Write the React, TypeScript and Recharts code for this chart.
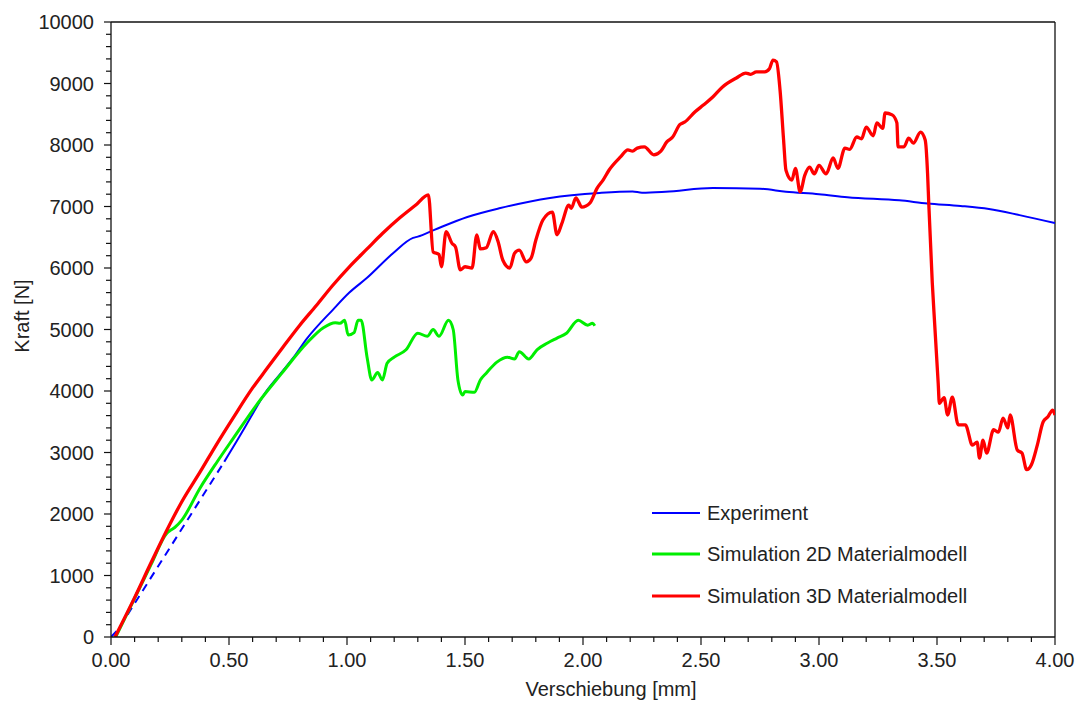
import React from "react";
import { LineChart, Line, XAxis, YAxis, ReferenceLine, Label } from "recharts";

// ---------- data ----------
const experimentDashed: [number, number][] = [
  [0.0, 0], [0.03, 120], [0.48, 2850],
];

const experiment: [number, number][] = [
  [0.48, 2850], [0.54, 3230], [0.59, 3560], [0.65, 3950], [0.72, 4290], [0.78, 4580],
  [0.83, 4850], [0.94, 5320], [1.01, 5600], [1.085, 5840], [1.195, 6240], [1.28, 6490],
  [1.30, 6510], [1.37, 6620], [1.51, 6830], [1.65, 6975], [1.86, 7140], [2.07, 7220],
  [2.21, 7245], [2.25, 7225], [2.35, 7240], [2.55, 7300], [2.75, 7290], [2.86, 7240],
  [3.0, 7200], [3.12, 7150], [3.34, 7100], [3.46, 7050], [3.6, 7010], [3.72, 6960],
  [3.85, 6860], [4.0, 6730],
];

const sim2D: [number, number][] = [
  [0.02, 0], [0.1, 630], [0.17, 1180], [0.237, 1690], [0.25, 1730], [0.27, 1780],
  [0.3, 1900], [0.377, 2420],
  [0.45, 2850], [0.518, 3230], [0.62, 3790], [0.724, 4290], [0.83, 4780], [0.9, 5030],
  [0.95, 5110], [0.97, 5100], [0.99, 5150], [1.005, 4910], [1.03, 4950], [1.047, 5150],
  [1.06, 5150], [1.085, 4550], [1.105, 4180], [1.13, 4300], [1.15, 4180], [1.17, 4450],
  [1.2, 4550], [1.25, 4670], [1.30, 4940], [1.34, 4890], [1.365, 5000], [1.39, 4890],
  [1.43, 5150], [1.45, 5000], [1.47, 4180], [1.49, 3935], [1.50, 3990], [1.54, 3980],
  [1.565, 4180], [1.59, 4290], [1.635, 4470], [1.68, 4550], [1.71, 4520], [1.73, 4640],
  [1.77, 4520], [1.805, 4670], [1.85, 4780], [1.89, 4860], [1.93, 4940], [1.98, 5150],
  [2.02, 5070], [2.04, 5100], [2.05, 5060],
];

const sim3D: [number, number][] = [
  [0.017, 0], [0.1, 640], [0.17, 1210], [0.237, 1740], [0.3, 2200], [0.377, 2680], [0.45, 3150],
  [0.517, 3560], [0.6, 4050], [0.66, 4360], [0.73, 4720], [0.8, 5070], [0.87, 5390],
  [0.94, 5720], [1.01, 6020], [1.085, 6310], [1.15, 6560], [1.225, 6820], [1.29, 7020],
  [1.345, 7190], [1.365, 6260],
  [1.39, 6220], [1.40, 6020], [1.42, 6590], [1.445, 6400], [1.46, 6340], [1.48, 5970],
  [1.50, 6020], [1.53, 6000], [1.55, 6540], [1.565, 6310], [1.59, 6330], [1.62, 6590],
  [1.64, 6430], [1.66, 6130], [1.69, 6000], [1.71, 6240], [1.73, 6290], [1.76, 6100],
  [1.78, 6160], [1.80, 6450], [1.83, 6780], [1.87, 6910], [1.89, 6540], [1.91, 6720],
  [1.94, 7020], [1.95, 6970], [1.97, 7140], [1.995, 6990], [2.03, 7060], [2.06, 7300],
  [2.085, 7430], [2.11, 7590], [2.16, 7810], [2.19, 7920], [2.21, 7900], [2.23, 7950],
  [2.26, 7970], [2.30, 7840], [2.33, 7900], [2.355, 8050], [2.38, 8130], [2.41, 8330],
  [2.43, 8370], [2.475, 8540], [2.51, 8650], [2.55, 8780], [2.59, 8940], [2.65, 9090],
  [2.69, 9170], [2.71, 9150], [2.735, 9190], [2.77, 9190], [2.79, 9240], [2.805, 9380],
  [2.82, 9350], [2.835, 8890], [2.85, 8080], [2.86, 7590], [2.885, 7430], [2.90, 7620],
  [2.92, 7240], [2.94, 7510], [2.96, 7640], [2.98, 7530], [3.00, 7670], [3.03, 7530],
  [3.06, 7790], [3.08, 7620], [3.11, 7950], [3.13, 7930], [3.16, 8130], [3.18, 8100],
  [3.20, 8290], [3.23, 8150], [3.245, 8360], [3.27, 8270], [3.28, 8520], [3.31, 8490],
  [3.33, 8360], [3.335, 7970], [3.36, 7970], [3.38, 8110], [3.40, 8030], [3.43, 8210],
  [3.45, 8080], [3.46, 7540], [3.465, 7060], [3.48, 5760], [3.49, 5100], [3.505, 4130],
  [3.51, 3800], [3.53, 3890], [3.545, 3610], [3.565, 3900], [3.59, 3450], [3.62, 3450],
  [3.65, 3120], [3.67, 3170], [3.68, 2910], [3.695, 3200], [3.71, 2990], [3.74, 3370],
  [3.76, 3330], [3.78, 3560], [3.80, 3400], [3.81, 3610], [3.84, 3040], [3.86, 2990],
  [3.88, 2720], [3.90, 2800], [3.925, 3120], [3.95, 3500], [3.97, 3580], [3.99, 3690],
  [4.0, 3610],
];

const xMajorTicks = [0, 0.5, 1, 1.5, 2, 2.5, 3, 3.5, 4];
const xMinorTicks = [
  0.1, 0.2, 0.3, 0.4, 0.6, 0.7, 0.8, 0.9, 1.1, 1.2, 1.3, 1.4, 1.6, 1.7, 1.8, 1.9,
  2.1, 2.2, 2.3, 2.4, 2.6, 2.7, 2.8, 2.9, 3.1, 3.2, 3.3, 3.4, 3.6, 3.7, 3.8, 3.9,
];
const yMajorTicks = [0, 1000, 2000, 3000, 4000, 5000, 6000, 7000, 8000, 9000, 10000];
const yMinorStep = 200;

const legendItems = [
  { name: "Experiment", color: "#0000ff", width: 2 },
  { name: "Simulation 2D Materialmodell", color: "#00ee00", width: 3 },
  { name: "Simulation 3D Materialmodell", color: "#ff0000", width: 3 },
];

const xLabel = "Verschiebung [mm]";
const yLabel = "Kraft [N]";

// ---------- helpers ----------
const toPts = (arr: [number, number][]) => arr.map(([x, y]) => ({ x, y }));

const yMinorTicks: number[] = [];
for (let v = 0; v <= 10000; v += yMinorStep) if (v % 1000 !== 0) yMinorTicks.push(v);

const xTicks = [...xMajorTicks, ...xMinorTicks].sort((a, b) => a - b);
const yTicks = [...yMajorTicks, ...yMinorTicks].sort((a, b) => a - b);

const FONT = "'Liberation Sans', Arial, sans-serif";
const TEXT = "#222";
const AXIS = "#111";

const isMajorX = (v: number) => xMajorTicks.some((m) => Math.abs(m - v) < 1e-6);
const isMajorY = (v: number) => yMajorTicks.includes(v);

const XTick = (props: any) => {
  const { x, y, payload } = props;
  const v = payload.value as number;
  const major = isMajorX(v);
  return (
    <g>
      <line x1={x} y1={y} x2={x} y2={y + (major ? 8 : 5)} stroke={AXIS} strokeWidth={1.2} />
      {major && (
        <text x={x} y={y + 30} textAnchor="middle" fontFamily={FONT} fontSize={20} fill={TEXT}>
          {v.toFixed(2)}
        </text>
      )}
    </g>
  );
};

const YTick = (props: any) => {
  const { x, y, payload } = props;
  const v = payload.value as number;
  const major = isMajorY(v);
  return (
    <g>
      <line x1={x} y1={y} x2={x - (major ? 7 : 5)} y2={y} stroke={AXIS} strokeWidth={1.2} />
      {major && (
        <text x={x - 17} y={y} dy="0.35em" textAnchor="end" fontFamily={FONT} fontSize={20} fill={TEXT}>
          {v}
        </text>
      )}
    </g>
  );
};

export default function App() {
  return (
    <div style={{ position: "absolute", left: 0, top: 0, width: 1081, height: 704, background: "#fff" }}>
      <LineChart width={1081} height={704} margin={{ top: 22, right: 26, left: 0, bottom: 0 }}>
        <XAxis
          dataKey="x"
          type="number"
          domain={[0, 4]}
          ticks={xTicks}
          interval={0}
          tickSize={0}
          tickMargin={0}
          tick={(p: any) => <XTick {...p} />}
          axisLine={{ stroke: AXIS, strokeWidth: 1.3 }}
          tickLine={false}
          height={67}
          allowDataOverflow
        >
          <Label
            content={() => (
              <text x={611} y={696} textAnchor="middle" fontFamily={FONT} fontSize={20} fill={TEXT}>
                {xLabel}
              </text>
            )}
          />
        </XAxis>
        <YAxis
          dataKey="y"
          type="number"
          domain={[0, 10000]}
          ticks={yTicks}
          interval={0}
          tickSize={0}
          tickMargin={0}
          tick={(p: any) => <YTick {...p} />}
          axisLine={{ stroke: AXIS, strokeWidth: 1.3 }}
          tickLine={false}
          width={111}
          allowDataOverflow
        >
          <Label
            content={() => (
              <text
                x={22}
                y={316}
                transform="rotate(-90 22 316)"
                textAnchor="middle"
                dominantBaseline="central"
                fontFamily={FONT}
                fontSize={20}
                fill={TEXT}
              >
                {yLabel}
              </text>
            )}
          />
        </YAxis>
        <ReferenceLine y={10000} stroke={AXIS} strokeWidth={1.3} />
        <ReferenceLine x={4} stroke={AXIS} strokeWidth={1.3} />
        <Line
          data={toPts(experimentDashed)}
          dataKey="y"
          type="linear"
          stroke="#0000ff"
          strokeWidth={2}
          strokeDasharray="8 6"
          dot={false}
          isAnimationActive={false}
        />
        <Line
          data={toPts(experiment)}
          dataKey="y"
          type="monotone"
          stroke="#0000ff"
          strokeWidth={2}
          dot={false}
          isAnimationActive={false}
        />
        <Line
          data={toPts(sim2D)}
          dataKey="y"
          type="monotone"
          stroke="#00ee00"
          strokeWidth={3}
          strokeLinejoin="round"
          dot={false}
          isAnimationActive={false}
        />
        <Line
          data={toPts(sim3D)}
          dataKey="y"
          type="monotone"
          stroke="#ff0000"
          strokeWidth={3.3}
          strokeLinejoin="round"
          dot={false}
          isAnimationActive={false}
        />
      </LineChart>
      <div style={{ position: "absolute", left: 650, top: 492, fontFamily: FONT, fontSize: 20, color: TEXT }}>
        {legendItems.map((it) => (
          <div key={it.name} style={{ display: "flex", alignItems: "center", height: 41.5 }}>
            <svg width={52} height={10} style={{ marginRight: 5 }}>
              <line x1={2} y1={5} x2={50} y2={5} stroke={it.color} strokeWidth={it.width} />
            </svg>
            <span style={{ lineHeight: "20px", whiteSpace: "nowrap" }}>{it.name}</span>
          </div>
        ))}
      </div>
    </div>
  );
}
